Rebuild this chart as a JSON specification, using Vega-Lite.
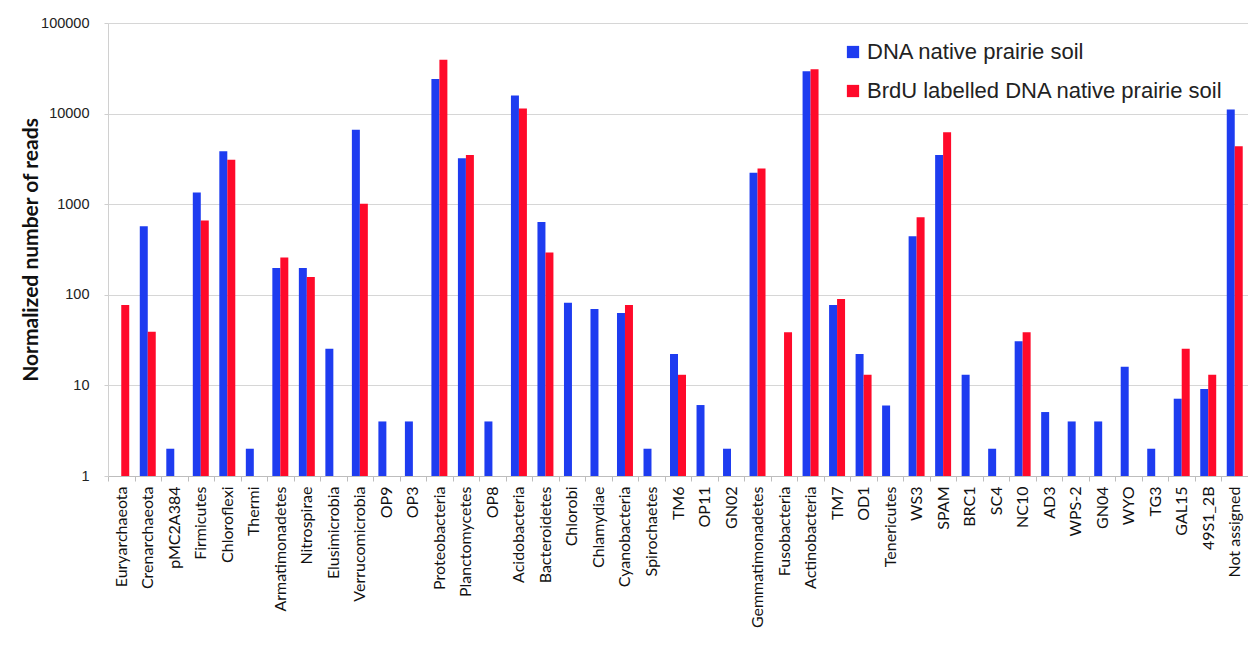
{
  "$schema": "https://vega.github.io/schema/vega-lite/v6.json",
  "width": 1140,
  "height": 453,
  "autosize": {"type": "none"},
  "padding": {"left": 108, "top": 23, "right": 0, "bottom": 173},
  "background": "white",
  "config": {"view": {"stroke": null}},
  "data": {"values": [
    {"phylum": "Euryarchaeota", "series": "BrdU labelled DNA native prairie soil", "reads": 77},
    {"phylum": "Crenarchaeota", "series": "DNA native prairie soil", "reads": 572},
    {"phylum": "Crenarchaeota", "series": "BrdU labelled DNA native prairie soil", "reads": 39},
    {"phylum": "pMC2A384", "series": "DNA native prairie soil", "reads": 2},
    {"phylum": "Firmicutes", "series": "DNA native prairie soil", "reads": 1350},
    {"phylum": "Firmicutes", "series": "BrdU labelled DNA native prairie soil", "reads": 660},
    {"phylum": "Chloroflexi", "series": "DNA native prairie soil", "reads": 3840},
    {"phylum": "Chloroflexi", "series": "BrdU labelled DNA native prairie soil", "reads": 3100},
    {"phylum": "Thermi", "series": "DNA native prairie soil", "reads": 2},
    {"phylum": "Armatimonadetes", "series": "DNA native prairie soil", "reads": 197},
    {"phylum": "Armatimonadetes", "series": "BrdU labelled DNA native prairie soil", "reads": 258},
    {"phylum": "Nitrospirae", "series": "DNA native prairie soil", "reads": 197},
    {"phylum": "Nitrospirae", "series": "BrdU labelled DNA native prairie soil", "reads": 157},
    {"phylum": "Elusimicrobia", "series": "DNA native prairie soil", "reads": 25.4},
    {"phylum": "Verrucomicrobia", "series": "DNA native prairie soil", "reads": 6640},
    {"phylum": "Verrucomicrobia", "series": "BrdU labelled DNA native prairie soil", "reads": 1010},
    {"phylum": "OP9", "series": "DNA native prairie soil", "reads": 4},
    {"phylum": "OP3", "series": "DNA native prairie soil", "reads": 4},
    {"phylum": "Proteobacteria", "series": "DNA native prairie soil", "reads": 24100},
    {"phylum": "Proteobacteria", "series": "BrdU labelled DNA native prairie soil", "reads": 39400},
    {"phylum": "Planctomycetes", "series": "DNA native prairie soil", "reads": 3210},
    {"phylum": "Planctomycetes", "series": "BrdU labelled DNA native prairie soil", "reads": 3500},
    {"phylum": "OP8", "series": "DNA native prairie soil", "reads": 4},
    {"phylum": "Acidobacteria", "series": "DNA native prairie soil", "reads": 15800},
    {"phylum": "Acidobacteria", "series": "BrdU labelled DNA native prairie soil", "reads": 11400},
    {"phylum": "Bacteroidetes", "series": "DNA native prairie soil", "reads": 635},
    {"phylum": "Bacteroidetes", "series": "BrdU labelled DNA native prairie soil", "reads": 293},
    {"phylum": "Chlorobi", "series": "DNA native prairie soil", "reads": 81.6},
    {"phylum": "Chlamydiae", "series": "DNA native prairie soil", "reads": 69.5},
    {"phylum": "Cyanobacteria", "series": "DNA native prairie soil", "reads": 62.8},
    {"phylum": "Cyanobacteria", "series": "BrdU labelled DNA native prairie soil", "reads": 77},
    {"phylum": "Spirochaetes", "series": "DNA native prairie soil", "reads": 2},
    {"phylum": "TM6", "series": "DNA native prairie soil", "reads": 22.2},
    {"phylum": "TM6", "series": "BrdU labelled DNA native prairie soil", "reads": 13.1},
    {"phylum": "OP11", "series": "DNA native prairie soil", "reads": 6.07},
    {"phylum": "GN02", "series": "DNA native prairie soil", "reads": 2},
    {"phylum": "Gemmatimonadetes", "series": "DNA native prairie soil", "reads": 2217},
    {"phylum": "Gemmatimonadetes", "series": "BrdU labelled DNA native prairie soil", "reads": 2474},
    {"phylum": "Fusobacteria", "series": "BrdU labelled DNA native prairie soil", "reads": 38.7},
    {"phylum": "Actinobacteria", "series": "DNA native prairie soil", "reads": 29300},
    {"phylum": "Actinobacteria", "series": "BrdU labelled DNA native prairie soil", "reads": 30800},
    {"phylum": "TM7", "series": "DNA native prairie soil", "reads": 77},
    {"phylum": "TM7", "series": "BrdU labelled DNA native prairie soil", "reads": 90},
    {"phylum": "OD1", "series": "DNA native prairie soil", "reads": 22.2},
    {"phylum": "OD1", "series": "BrdU labelled DNA native prairie soil", "reads": 13.1},
    {"phylum": "Tenericutes", "series": "DNA native prairie soil", "reads": 6},
    {"phylum": "WS3", "series": "DNA native prairie soil", "reads": 444},
    {"phylum": "WS3", "series": "BrdU labelled DNA native prairie soil", "reads": 719},
    {"phylum": "SPAM", "series": "DNA native prairie soil", "reads": 3500},
    {"phylum": "SPAM", "series": "BrdU labelled DNA native prairie soil", "reads": 6225},
    {"phylum": "BRC1", "series": "DNA native prairie soil", "reads": 13.1},
    {"phylum": "SC4", "series": "DNA native prairie soil", "reads": 2},
    {"phylum": "NC10", "series": "DNA native prairie soil", "reads": 30.8},
    {"phylum": "NC10", "series": "BrdU labelled DNA native prairie soil", "reads": 38.7},
    {"phylum": "AD3", "series": "DNA native prairie soil", "reads": 5.08},
    {"phylum": "WPS-2", "series": "DNA native prairie soil", "reads": 4},
    {"phylum": "GN04", "series": "DNA native prairie soil", "reads": 4},
    {"phylum": "WYO", "series": "DNA native prairie soil", "reads": 16.1},
    {"phylum": "TG3", "series": "DNA native prairie soil", "reads": 2},
    {"phylum": "GAL15", "series": "DNA native prairie soil", "reads": 7.13},
    {"phylum": "GAL15", "series": "BrdU labelled DNA native prairie soil", "reads": 25.4},
    {"phylum": "49S1_2B", "series": "DNA native prairie soil", "reads": 9.1},
    {"phylum": "49S1_2B", "series": "BrdU labelled DNA native prairie soil", "reads": 13.1},
    {"phylum": "Not assigned", "series": "DNA native prairie soil", "reads": 11070},
    {"phylum": "Not assigned", "series": "BrdU labelled DNA native prairie soil", "reads": 4360}
  ]},
  "mark": {"type": "bar"},
  "encoding": {
    "x": {
      "field": "phylum", "type": "nominal", "sort": null,
      "scale": {
        "domain": ["Euryarchaeota","Crenarchaeota","pMC2A384","Firmicutes","Chloroflexi","Thermi","Armatimonadetes","Nitrospirae","Elusimicrobia","Verrucomicrobia","OP9","OP3","Proteobacteria","Planctomycetes","OP8","Acidobacteria","Bacteroidetes","Chlorobi","Chlamydiae","Cyanobacteria","Spirochaetes","TM6","OP11","GN02","Gemmatimonadetes","Fusobacteria","Actinobacteria","TM7","OD1","Tenericutes","WS3","SPAM","BRC1","SC4","NC10","AD3","WPS-2","GN04","WYO","TG3","GAL15","49S1_2B","Not assigned"],
        "paddingInner": 0, "paddingOuter": 0
      },
      "axis": {
        "title": null,
        "labelAngle": -90,
        "labelFont": "Lato",
        "labelFontSize": 16,
        "labelColor": "#111111",
        "labelPadding": 5,
        "tickBand": "extent",
        "tickSize": 5,
        "tickColor": "#bdbdbd",
        "domainColor": "#bdbdbd",
        "grid": false
      }
    },
    "xOffset": {
      "field": "series", "type": "nominal",
      "scale": {"domain": ["DNA native prairie soil", "BrdU labelled DNA native prairie soil"], "paddingOuter": 0.66, "paddingInner": 0}
    },
    "y": {
      "field": "reads", "type": "quantitative",
      "scale": {"type": "log", "domain": [1, 100000], "nice": false},
      "axis": {
        "title": "Normalized number of reads",
        "titleFont": "Lato",
        "titleFontSize": 21,
        "titleFontWeight": "bold",
        "titleColor": "#111111",
        "titlePadding": -1,
        "values": [1, 10, 100, 1000, 10000, 100000],
        "format": "d",
        "labelFont": "Liberation Sans",
        "labelFontSize": 14.5,
        "labelColor": "#222222",
        "labelPadding": 15,
        "tickSize": 4,
        "tickColor": "#cfcfcf",
        "domainColor": "#d0d0d0",
        "gridColor": "#d6d6d6",
        "gridWidth": 1.2
      }
    },
    "y2": {"datum": 1},
    "color": {
      "field": "series", "type": "nominal",
      "scale": {"domain": ["DNA native prairie soil", "BrdU labelled DNA native prairie soil"], "range": ["#1E3CF0", "#FF0A2A"]},
      "legend": {
        "title": null,
        "orient": "none",
        "legendX": 734,
        "legendY": 18,
        "symbolType": "square",
        "symbolSize": 150,
        "symbolStrokeWidth": 0,
        "labelFont": "Liberation Sans",
        "labelFontSize": 22,
        "labelColor": "#222222",
        "labelOffset": 3,
        "rowPadding": 17,
        "labelLimit": 500
      }
    }
  }
}
